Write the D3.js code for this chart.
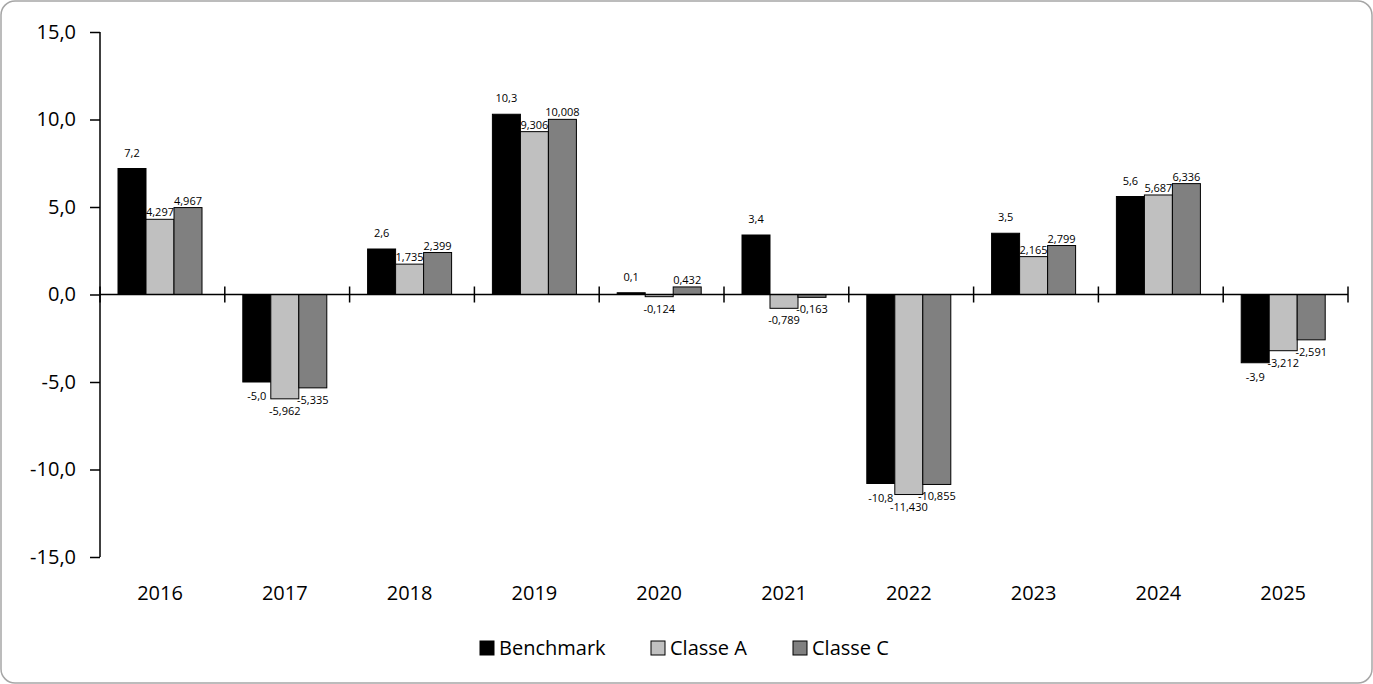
<!DOCTYPE html>
<html>
<head>
<meta charset="utf-8">
<script src="https://cdn.jsdelivr.net/npm/d3@7"></script>
<style>
  body { margin: 0; background: #fff; }
  text { font-family: "Open Sans", "Liberation Sans", sans-serif; }
</style>
</head>
<body>
<svg id="chart" width="1373" height="684"></svg>
<script>
// categories and series
let years = ['2016', '2017', '2018', '2019', '2020', '2021', '2022', '2023', '2024', '2025']
let benchmark = [7.2, -5.0, 2.6, 10.3, 0.1, 3.4, -10.8, 3.5, 5.6, -3.9]
let classeA = [4.297, -5.962, 1.735, 9.306, -0.124, -0.789, -11.430, 2.165, 5.687, -3.212]
let classeC = [4.967, -5.335, 2.399, 10.008, 0.432, -0.163, -10.855, 2.799, 6.336, -2.591]
let yTicks = [-15, -10, -5, 0, 5, 10, 15]

let seriesList = [
    { name: 'Benchmark', values: benchmark, color: '#000000', digits: 1 },
    { name: 'Classe A', values: classeA, color: '#c0c0c0', digits: 3 },
    { name: 'Classe C', values: classeC, color: '#808080', digits: 3 }
]

let svg = d3.select("#chart");
let fmt = (v, d) => v.toFixed(d).replace('.', ',');

// outer rounded border
svg.append("rect")
    .attr("x", 1).attr("y", 1).attr("width", 1371).attr("height", 682)
    .attr("rx", 14).attr("fill", "#fff").attr("stroke", "#a6a6a6").attr("stroke-width", 1.5);

let x = d3.scaleBand().domain(years).range([100, 1348]);
let y = d3.scaleLinear().domain([-15, 15]).range([557, 32]);
let inner = d3.scaleBand().domain(seriesList.map(s => s.name))
    .range([0, 84]);
let offset = 18;

// bars + labels
seriesList.forEach(s => {
    let g = svg.append("g");
    years.forEach((yr, i) => {
        let v = s.values[i];
        let bx = x(yr) + offset + inner(s.name);
        g.append("rect")
            .attr("x", bx).attr("width", inner.bandwidth())
            .attr("y", y(Math.max(0, v))).attr("height", Math.abs(y(v) - y(0)))
            .attr("fill", s.color).attr("stroke", "#000").attr("stroke-width", 1);
        let ly = v >= 0 ? y(v) - (s.digits === 1 ? 16 : 7) : y(v) + (s.digits === 1 ? 14 : 12);
        g.append("text")
            .attr("x", bx + inner.bandwidth() / 2).attr("y", ly + 4)
            .attr("text-anchor", "middle").attr("font-size", 11)
            .text(fmt(v, s.digits));
    });
});

// y axis
let yAxis = svg.append("g").attr("transform", "translate(100,0)")
    .call(d3.axisLeft(y).tickValues(yTicks).tickSize(10).tickPadding(14).tickFormat(d => fmt(d, 1)));
yAxis.selectAll("text").attr("font-size", 20).attr("fill", "#000");
yAxis.selectAll("line, path").attr("stroke", "#000").attr("stroke-width", 1.5);
yAxis.select(".domain").attr("d", "M0,32V557");

// x axis at zero
let xAxis = svg.append("g").attr("transform", `translate(0,${y(0)})`)
    .call(d3.axisBottom(x).tickSize(0).tickFormat(""));
xAxis.select(".domain").attr("d", "M100,0H1348").attr("stroke", "#000").attr("stroke-width", 1.5);
xAxis.selectAll(".tick").remove();
let bounds = years.map(yr => x(yr)).concat([x.range()[1]]);
bounds.forEach(b => {
    svg.append("line").attr("x1", b).attr("x2", b).attr("y1", y(0) - 8).attr("y2", y(0) + 8)
        .attr("stroke", "#000").attr("stroke-width", 1.5);
});

// category labels at bottom
years.forEach(yr => {
    svg.append("text")
        .attr("x", x(yr) + offset + 42).attr("y", 600)
        .attr("text-anchor", "middle").attr("font-size", 20)
        .text(yr);
});

// legend
let legendX = [480, 651, 793];
seriesList.forEach((s, i) => {
    svg.append("rect")
        .attr("x", legendX[i]).attr("y", 641).attr("width", 14).attr("height", 14)
        .attr("fill", s.color).attr("stroke", "#000").attr("stroke-width", 1);
    svg.append("text")
        .attr("x", legendX[i] + 19).attr("y", 655).attr("font-size", 20)
        .text(s.name);
});
</script>
</body>
</html>
